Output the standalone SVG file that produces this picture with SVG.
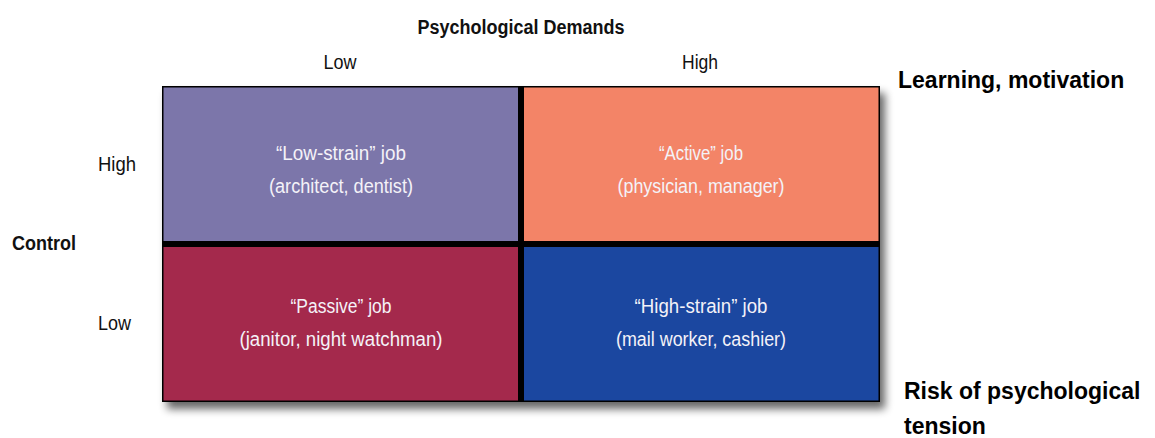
<svg xmlns="http://www.w3.org/2000/svg" width="1155" height="438" viewBox="0 0 1155 438">
<style>
.cond{font-family:"Liberation Sans",Arial,sans-serif;}
.axis{font-size:20px;fill:#111;text-anchor:middle;}
.cell{font-size:20px;fill:#f4f2f8;text-anchor:middle;}
.big{font-family:"Liberation Sans",Arial,sans-serif;font-weight:bold;font-size:23px;fill:#000;}
</style>
<defs>
<filter id="sh" x="-5%" y="-5%" width="112%" height="120%">
<feGaussianBlur in="SourceAlpha" stdDeviation="4"/>
<feOffset dx="5" dy="7" result="b"/>
<feComponentTransfer><feFuncA type="linear" slope="0.6"/></feComponentTransfer>
<feMerge><feMergeNode/><feMergeNode in="SourceGraphic"/></feMerge>
</filter>
</defs>
<rect width="1155" height="438" fill="#fff"/>
<g id="grid">
<rect x="162" y="86" width="718" height="316" fill="#000" filter="url(#sh)"/>
</g>
<g id="low-strain">
<rect x="163.5" y="87.5" width="354.5" height="153.5" fill="#7c76aa"/>
<text class="cond cell" x="341" y="160" textLength="130" lengthAdjust="spacingAndGlyphs">“Low-strain” job</text>
<text class="cond cell" x="341" y="193" textLength="144" lengthAdjust="spacingAndGlyphs">(architect, dentist)</text>
</g>
<g id="active">
<rect x="524" y="87.5" width="354.5" height="153.5" fill="#f38467"/>
<text class="cond cell" x="701" y="160" textLength="84" lengthAdjust="spacingAndGlyphs">“Active” job</text>
<text class="cond cell" x="701" y="193" textLength="167" lengthAdjust="spacingAndGlyphs">(physician, manager)</text>
</g>
<g id="passive">
<rect x="163.5" y="247" width="354.5" height="153.5" fill="#a4294c"/>
<text class="cond cell" x="341" y="313" textLength="101" lengthAdjust="spacingAndGlyphs">“Passive” job</text>
<text class="cond cell" x="341" y="346" textLength="203" lengthAdjust="spacingAndGlyphs">(janitor, night watchman)</text>
</g>
<g id="high-strain">
<rect x="524" y="247" width="354.5" height="153.5" fill="#1b47a0"/>
<text class="cond cell" x="701" y="313" textLength="133" lengthAdjust="spacingAndGlyphs">“High-strain” job</text>
<text class="cond cell" x="701" y="346" textLength="170" lengthAdjust="spacingAndGlyphs">(mail worker, cashier)</text>
</g>
<g id="labels">
<text class="cond axis" x="521" y="34" font-weight="bold" textLength="207" lengthAdjust="spacingAndGlyphs">Psychological Demands</text>
<text class="cond axis" x="340" y="69" textLength="33" lengthAdjust="spacingAndGlyphs">Low</text>
<text class="cond axis" x="700" y="69" textLength="36" lengthAdjust="spacingAndGlyphs">High</text>
<text class="cond axis" x="44" y="250" font-weight="bold" textLength="64" lengthAdjust="spacingAndGlyphs">Control</text>
<text class="cond axis" x="117" y="171" textLength="38" lengthAdjust="spacingAndGlyphs">High</text>
<text class="cond axis" x="114.5" y="330" textLength="33" lengthAdjust="spacingAndGlyphs">Low</text>
<text class="big" x="898" y="88">Learning, motivation</text>
<text class="big" x="904" y="399">Risk of psychological</text>
<text class="big" x="904" y="434">tension</text>
</g>
<g id="connectors"/>
</svg>
